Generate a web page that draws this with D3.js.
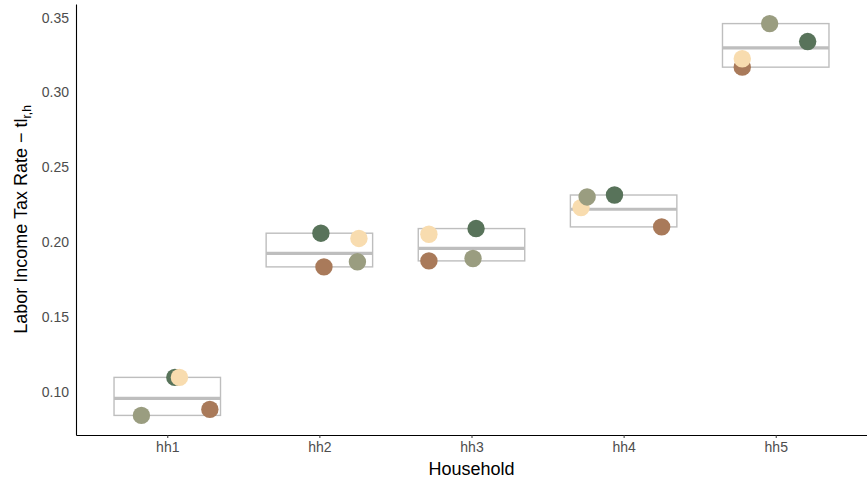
<!DOCTYPE html>
<html>
<head>
<meta charset="utf-8">
<script src="https://cdn.jsdelivr.net/npm/d3@7"></script>
<style>
  body { margin: 0; background: #fff; }
  svg { display: block; font-family: "Liberation Sans", Arial, sans-serif; }
</style>
</head>
<body>
<svg id="chart" width="867" height="482"></svg>
<script>
// ---- data ----
const households = ["hh1", "hh2", "hh3", "hh4", "hh5"];
const series = ["r1", "r2", "r3", "r4"];
const seriesColors = ["#a97a5a", "#58735a", "#f8dcaf", "#9a9d80"];
// values per series (one per household)
const r1Values = [0.0883, 0.1835, 0.1875, 0.2102, 0.3169]; // brown
const r2Values = [0.1097, 0.2060, 0.2091, 0.2315, 0.3340]; // dark green
const r3Values = [0.1097, 0.2025, 0.2053, 0.2231, 0.3225]; // beige
const r4Values = [0.0843, 0.1869, 0.1891, 0.2302, 0.3460]; // sage
// horizontal jitter (in category units)
const r1Jitter = [0.28, 0.03, -0.28, 0.25, -0.22];
const r2Jitter = [0.05, 0.01, 0.03, -0.06, 0.21];
const r3Jitter = [0.08, 0.26, -0.28, -0.28, -0.22];
const r4Jitter = [-0.17, 0.25, 0.01, -0.24, -0.04];
// crossbar summary
const boxMin = [0.0843, 0.1835, 0.1875, 0.2102, 0.3169];
const boxMid = [0.0957, 0.1925, 0.1958, 0.2220, 0.3298];
const boxMax = [0.1097, 0.2060, 0.2091, 0.2315, 0.3460];
const yTicks = [0.10, 0.15, 0.20, 0.25, 0.30, 0.35];

const allValues = [r1Values, r2Values, r3Values, r4Values];
const allJitter = [r1Jitter, r2Jitter, r3Jitter, r4Jitter];

// ---- layout ----
const W = 867, H = 482;
const margin = { left: 76, right: 0, top: 4, bottom: 47 };
const svg = d3.select("#chart");

const x = d3.scaleLinear().domain([0.4, 5.6]).range([margin.left, W - margin.right]);
const yLo = 0.0843 - 0.05 * (0.3460 - 0.0843);
const yHi = 0.3460 + 0.05 * (0.3460 - 0.0843);
const y = d3.scaleLinear().domain([yLo, yHi]).range([H - margin.bottom, margin.top]);

// crossbars
const bw = 0.7;
const boxes = svg.append("g");
households.forEach((h, i) => {
  const cx = i + 1;
  boxes.append("rect")
    .attr("x", x(cx - bw / 2)).attr("width", x(cx + bw / 2) - x(cx - bw / 2))
    .attr("y", y(boxMax[i])).attr("height", y(boxMin[i]) - y(boxMax[i]))
    .attr("fill", "none").attr("stroke", "#bebebe").attr("stroke-width", 1.4);
  boxes.append("line")
    .attr("x1", x(cx - bw / 2)).attr("x2", x(cx + bw / 2))
    .attr("y1", y(boxMid[i])).attr("y2", y(boxMid[i]))
    .attr("stroke", "#bebebe").attr("stroke-width", 3.2);
});

// points
const pts = svg.append("g");
series.forEach((s, si) => {
  households.forEach((h, i) => {
    pts.append("circle")
      .attr("cx", x(i + 1 + allJitter[si][i]))
      .attr("cy", y(allValues[si][i]))
      .attr("r", 8.7)
      .attr("fill", seriesColors[si]);
  });
});

// axes
const xAxis = d3.axisBottom(x).tickValues([1, 2, 3, 4, 5])
  .tickFormat(d => households[d - 1]).tickSize(3).tickPadding(4).tickSizeOuter(0);
const gx = svg.append("g").attr("transform", `translate(0,${H - margin.bottom})`).call(xAxis);
gx.select(".domain").attr("stroke", "#000").attr("stroke-width", 1.1);
gx.selectAll(".tick line").attr("stroke", "#333");
gx.selectAll(".tick text").attr("fill", "#4d4d4d").attr("font-size", 14)
  .attr("font-family", "Liberation Sans, Arial, sans-serif");

const yAxis = d3.axisLeft(y).tickValues(yTicks).tickFormat(d3.format(".2f"))
  .tickSize(0).tickPadding(7).tickSizeOuter(0);
const gy = svg.append("g").attr("transform", `translate(${margin.left},0)`).call(yAxis);
gy.select(".domain").attr("stroke", "#000").attr("stroke-width", 1.1);
gy.selectAll(".tick text").attr("fill", "#4d4d4d").attr("font-size", 14)
  .attr("font-family", "Liberation Sans, Arial, sans-serif");

// titles
svg.append("text")
  .attr("x", (margin.left + W - margin.right) / 2).attr("y", 475)
  .attr("text-anchor", "middle").attr("font-size", 18).attr("fill", "#000")
  .text("Household");

const yt = svg.append("text")
  .attr("transform", `translate(27,${(margin.top + H - margin.bottom) / 2}) rotate(-90)`)
  .attr("text-anchor", "middle").attr("font-size", 18).attr("fill", "#000");
yt.append("tspan").text("Labor Income Tax Rate \u2212 tl");
yt.append("tspan").attr("font-size", 12).attr("dy", 4).text("r,h");
</script>
</body>
</html>
